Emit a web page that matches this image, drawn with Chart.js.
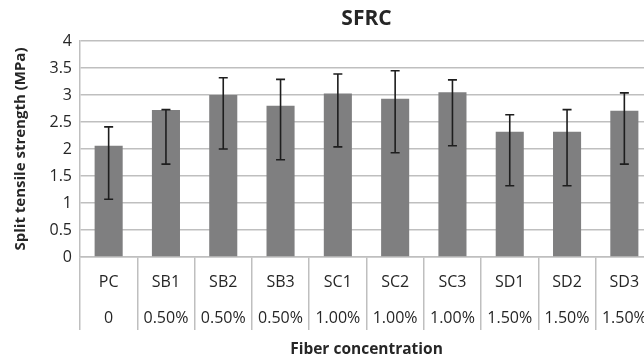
<!DOCTYPE html>
<html>
<head>
<meta charset="utf-8">
<script src="https://cdn.jsdelivr.net/npm/chart.js@4/dist/chart.umd.min.js"></script>
<style>
  html, body { margin: 0; padding: 0; background: #fff; overflow: hidden; }
  #wrap { width: 660px; height: 360px; }
</style>
</head>
<body>
<div id="wrap"><canvas id="chart" width="660" height="360"></canvas></div>
<script>
// Mix designations and their fibre volume fractions
const categories = ['PC', 'SB1', 'SB2', 'SB3', 'SC1', 'SC2', 'SC3', 'SD1', 'SD2', 'SD3'];
const fiberContent = ['0', '0.50%', '0.50%', '0.50%', '1.00%', '1.00%', '1.00%', '1.50%', '1.50%', '1.50%'];

// Mean split tensile strength (MPa)
const strength = [2.06, 2.72, 3.00, 2.80, 3.03, 2.93, 3.05, 2.32, 2.32, 2.71];

// Error bar extents (MPa)
const errorHigh = [2.41, 2.73, 3.32, 3.29, 3.39, 3.45, 3.28, 2.635, 2.73, 3.04];
const errorLow  = [1.07, 1.72, 2.00, 1.80, 2.04, 1.93, 2.06, 1.32, 1.32, 1.72];

// Value axis ticks
const yMin = 0, yMax = 4, yStep = 0.5;

const FONT = "'Open Sans', 'Noto Sans', sans-serif";
const GRID = '#bfbfbf';
const TEXT = '#262626';

// Draws vertical error bars with caps over each bar
const errorBars = {
  id: 'errorBars',
  afterDatasetsDraw(chart) {
    const { ctx, scales: { y } } = chart;
    const meta = chart.getDatasetMeta(0);
    const cap = 4.5;
    ctx.save();
    ctx.strokeStyle = '#1e1e1e';
    ctx.lineWidth = 1.6;
    meta.data.forEach((bar, i) => {
      const cx = bar.x;
      const top = y.getPixelForValue(errorHigh[i]);
      const bot = y.getPixelForValue(errorLow[i]);
      ctx.beginPath();
      ctx.moveTo(cx, top); ctx.lineTo(cx, bot);
      ctx.moveTo(cx - cap, top); ctx.lineTo(cx + cap, top);
      ctx.moveTo(cx - cap, bot); ctx.lineTo(cx + cap, bot);
      ctx.stroke();
    });
    ctx.restore();
  }
};

new Chart(document.getElementById('chart'), {
  type: 'bar',
  data: {
    labels: categories.map((c, i) => [c, fiberContent[i]]),
    datasets: [{
      data: strength,
      backgroundColor: '#7f7f80',
      borderWidth: 0,
      barPercentage: 0.49,
      categoryPercentage: 1
    }]
  },
  options: {
    responsive: false,
    animation: false,
    layout: { padding: { left: 0, right: 7, top: 0, bottom: 0 } },
    plugins: {
      legend: { display: false },
      tooltip: { enabled: false },
      title: {
        display: true,
        text: 'SFRC',
        fullSize: false,
        color: TEXT,
        font: { family: FONT, size: 21, weight: 'bold', lineHeight: 1.2 },
        padding: { top: 6.6, bottom: 9.2 }
      }
    },
    scales: {
      x: {
        offset: true,
        grid: {
          display: true,
          offset: true,
          drawOnChartArea: false,
          drawTicks: true,
          tickLength: 73,
          color: GRID,
          lineWidth: 1.5
        },
        border: { display: true, color: GRID, width: 1.5 },
        ticks: {
          autoSkip: false,
          maxRotation: 0,
          minRotation: 0,
          padding: -65.5,
          color: TEXT,
          font: { family: FONT, size: 16, lineHeight: 2.25 }
        },
        title: {
          display: true,
          text: 'Fiber concentration',
          color: TEXT,
          font: { family: FONT, size: 15.5, weight: 'bold', lineHeight: 1.2 },
          padding: { top: 4, bottom: 1.5 }
        },
        afterFit(scale) { scale.height = 103; }
      },
      y: {
        min: yMin,
        max: yMax,
        ticks: {
          stepSize: yStep,
          padding: 8,
          color: TEXT,
          font: { family: FONT, size: 16, lineHeight: 1.2 },
          callback: (value) => String(value)
        },
        grid: { color: GRID, lineWidth: 1.5, drawTicks: false },
        border: { display: true, color: GRID, width: 1.5 },
        title: {
          display: true,
          text: 'Split tensile strength (MPa)',
          color: TEXT,
          font: { family: FONT, size: 15, weight: 'bold', lineHeight: 1.2 },
          padding: { top: 12, bottom: 0 }
        },
        afterFit(scale) { scale.width = 80; }
      }
    }
  },
  plugins: [errorBars]
});
</script>
</body>
</html>
